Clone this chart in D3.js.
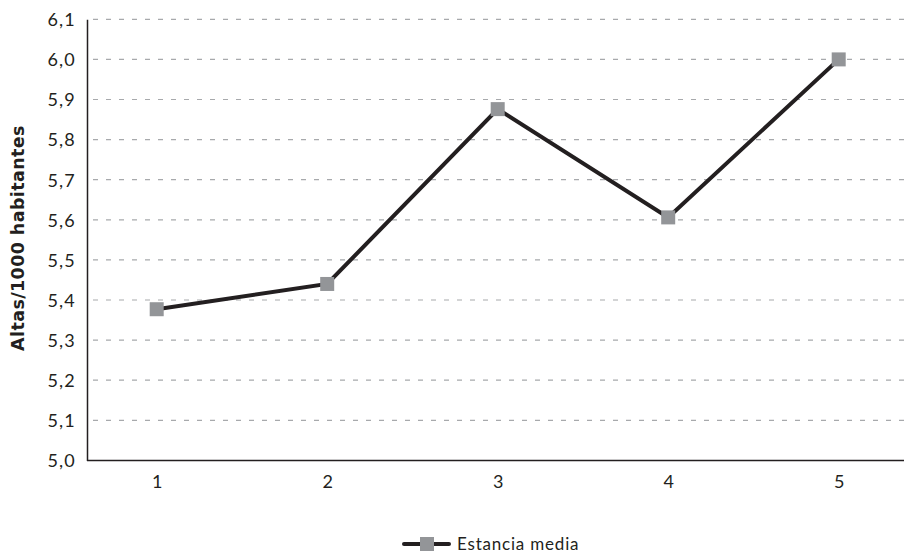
<!DOCTYPE html>
<html>
<head>
<meta charset="utf-8">
<script src="https://cdn.jsdelivr.net/npm/d3@7/dist/d3.min.js"></script>
<style>
  html, body { margin: 0; padding: 0; background: #ffffff; }
  svg { display: block; }
  .tick-label { font-family: Lato, "Open Sans", sans-serif; font-size: 18px; letter-spacing: 1.2px; fill: #231f20; }
</style>
</head>
<body>
<svg id="chart" width="904" height="558"></svg>
<script>
// Series data
const categories = [1, 2, 3, 4, 5];
const estanciaMedia = [5.377, 5.44, 5.876, 5.606, 6.0];
const yTicks = [5.0, 5.1, 5.2, 5.3, 5.4, 5.5, 5.6, 5.7, 5.8, 5.9, 6.0, 6.1];
const seriesName = "Estancia media";
const yTitle = "Altas/1000 habitantes";

const svg = d3.select("#chart");
const plot = { left: 87, right: 904, top: 19.3, bottom: 460.4 };

const x = d3.scaleLinear().domain([1, 5]).range([156.7, 838.7]);
const y = d3.scaleLinear().domain([5.0, 6.1]).range([plot.bottom, plot.top]);
const fmt = v => d3.format(".1f")(v).replace(".", ",");

// Dashed horizontal gridlines
svg.append("g")
  .selectAll("line")
  .data(yTicks.filter(d => d > 5.0))
  .join("line")
  .attr("x1", plot.left + 6).attr("x2", plot.right)
  .attr("y1", d => y(d)).attr("y2", d => y(d))
  .attr("stroke", "#a7a9ac").attr("stroke-width", 1.2)
  .attr("stroke-dasharray", "5,8");

// Y axis
const yAxis = svg.append("g")
  .attr("transform", `translate(${plot.left},0)`)
  .call(d3.axisLeft(y).tickValues(yTicks).tickFormat(fmt).tickSize(0).tickPadding(11));
yAxis.select(".domain").attr("stroke", "#231f20").attr("stroke-width", 1.5);
yAxis.selectAll("text").attr("class", "tick-label").attr("font-family", null).attr("font-size", null).attr("fill", null).attr("dy", "0.35em");

// X axis
const xAxis = svg.append("g")
  .attr("transform", `translate(0,${plot.bottom})`)
  .call(d3.axisBottom(x).tickValues(categories).tickFormat(d3.format("d")).tickSize(0).tickPadding(15));
xAxis.select(".domain").attr("d", `M${plot.left},0H${plot.right}`).attr("stroke", "#231f20").attr("stroke-width", 1.5);
xAxis.selectAll("text").attr("class", "tick-label").attr("font-family", null).attr("font-size", null).attr("fill", null).style("letter-spacing", "0px");

// Y axis title
svg.append("text")
  .attr("transform", "translate(24,238) rotate(-90)")
  .attr("text-anchor", "middle")
  .attr("font-family", "'DejaVu Sans', 'Liberation Sans', sans-serif")
  .attr("font-weight", "bold")
  .attr("font-size", 17.5)
  .attr("letter-spacing", 0.4)
  .attr("fill", "#231f20")
  .text(yTitle);

// Line
const pts = categories.map((c, i) => [c, estanciaMedia[i]]);
svg.append("path")
  .datum(pts)
  .attr("fill", "none")
  .attr("stroke", "#231f20")
  .attr("stroke-width", 4)
  .attr("d", d3.line().x(d => x(d[0])).y(d => y(d[1])));

// Square markers
const ms = 14;
svg.append("g")
  .selectAll("rect")
  .data(pts)
  .join("rect")
  .attr("x", d => x(d[0]) - ms / 2)
  .attr("y", d => y(d[1]) - ms / 2)
  .attr("width", ms).attr("height", ms)
  .attr("fill", "#939598");

// Legend
const lg = svg.append("g").attr("transform", "translate(404,544)");
lg.append("line").attr("x1", 0).attr("x2", 45).attr("y1", 0).attr("y2", 0)
  .attr("stroke", "#231f20").attr("stroke-width", 4).attr("stroke-linecap", "round");
lg.append("rect").attr("x", 16).attr("y", -7).attr("width", 14).attr("height", 14).attr("fill", "#939598");
lg.append("text").attr("x", 53).attr("y", 0).attr("dy", "0.35em")
  .attr("font-family", "Lato, 'Open Sans', sans-serif").attr("font-size", 17)
  .attr("letter-spacing", 0.8)
  .attr("fill", "#231f20").text(seriesName);
</script>
</body>
</html>
